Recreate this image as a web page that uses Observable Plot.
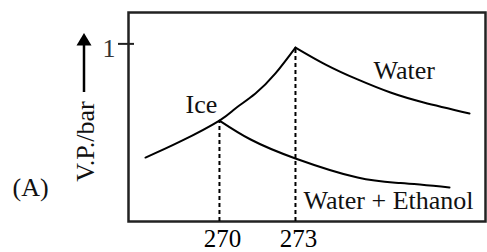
<!DOCTYPE html>
<html>
<head>
<meta charset="utf-8">
<script src="https://cdn.jsdelivr.net/npm/d3@7"></script>
<script src="https://cdn.jsdelivr.net/npm/@observablehq/plot@0.6"></script>
<style>
  html, body { margin: 0; padding: 0; background: #fff; }
  #chart svg { display: block; }
</style>
</head>
<body>
<div id="chart"></div>
<script>
// Ice curve (rising to the triple point at 273)
const iceT  = [267.08, 268.46, 270.0, 270.63, 271.42, 272.21, 273.0];
const iceVP = [0.361, 0.452, 0.570, 0.638, 0.723, 0.836, 0.982];
// Pure water curve (from 273 falling)
const waterT  = [273.0, 274.19, 275.45, 276.75, 278.06, 279.87];
const waterVP = [0.982, 0.886, 0.802, 0.728, 0.672, 0.610];
// Water + Ethanol curve (from 270 falling)
const ethT  = [270.0, 271.23, 273.0, 275.45, 277.15, 279.08];
const ethVP = [0.570, 0.463, 0.356, 0.248, 0.217, 0.192];
// Dashed markers
const markT  = [270, 273];
const markVP = [0.570, 0.982];
// Ticks
const xTicks = [270, 273];
const yTicks = [1];
// Labels
const labelNames = ["Ice", "Water", "Water + Ethanol"];
const labelT  = [268.66, 276.08, 273.32];
const labelVP = [0.610, 0.807, 0.073];
const yTitle = ["V.P./bar"];
const panelTag = ["(A)"];

const FONT = "'Liberation Serif', 'Times New Roman', serif";
const toPts = (T, V) => T.map((t, i) => ({t, v: V[i]}));
const ice = toPts(iceT, iceVP);
const water = toPts(waterT, waterVP);
const eth = toPts(ethT, ethVP);
const marks = toPts(markT, markVP);
const labels = labelNames.map((n, i) => ({n, t: labelT[i], v: labelVP[i]}));

// y-axis tick crossing the frame, arrow and rotated title in the left margin
const leftDecor = (index, scales, values, dim) => {
  const g = d3.create("svg:g");
  const ml = dim.marginLeft;
  for (const v of yTicks) {
    const yy = scales.y(v);
    g.append("line").attr("x1", ml - 10).attr("x2", ml + 6)
      .attr("y1", yy).attr("y2", yy)
      .attr("stroke", "#222").attr("stroke-width", 2);
  }
  const x = ml - 44;
  const top = dim.marginTop + 21;
  g.append("line").attr("x1", x).attr("x2", x)
    .attr("y1", top + 10).attr("y2", top + 59)
    .attr("stroke", "#000").attr("stroke-width", 2.5);
  g.append("path")
    .attr("d", `M${x},${top} L${x - 7.5},${top + 12.5} L${x + 7.5},${top + 12.5} Z`)
    .attr("fill", "#000");
  const cy = dim.marginTop + 129.5;
  g.append("text")
    .attr("transform", `translate(${ml - 42},${cy}) rotate(-90)`)
    .attr("text-anchor", "middle")
    .attr("dy", "0.32em")
    .attr("font-size", 26)
    .attr("font-family", FONT)
    .attr("fill", "#111")
    .text(yTitle[0]);
  return g.node();
};

const chart = Plot.plot({
  width: 487,
  height: 252,
  marginLeft: 128,
  marginRight: 2,
  marginTop: 12,
  marginBottom: 31,
  style: {fontFamily: FONT, background: "#fff", color: "#000"},
  x: {domain: [266.41, 280.5]},
  y: {domain: [0, 1.18], axis: null},
  marks: [
    Plot.frame({stroke: "#222", strokeWidth: 2.5}),
    Plot.axisX({ticks: xTicks, tickSize: 0, tickPadding: 7.5, fontSize: 25, label: null, dx: 3, tickFormat: d => String(d)}),
    Plot.text(yTicks, {y: d => d, frameAnchor: "left", text: d => String(d), textAnchor: "end", dx: -13, dy: 4, fontSize: 26, fill: "#333"}),
    Plot.ruleX(marks, {x: "t", y1: 0, y2: "v", stroke: "#000", strokeWidth: 2, strokeDasharray: "4,3"}),
    Plot.line(ice, {x: "t", y: "v", curve: "natural", stroke: "#000", strokeWidth: 2}),
    Plot.line(water, {x: "t", y: "v", curve: "natural", stroke: "#000", strokeWidth: 2}),
    Plot.line(eth, {x: "t", y: "v", curve: "natural", stroke: "#000", strokeWidth: 2}),
    Plot.text(labels, {x: "t", y: "v", text: "n", textAnchor: "start", lineAnchor: "bottom", fontSize: 26, fill: "#111"}),
    Plot.text(panelTag, {frameAnchor: "bottom-left", text: d => d, textAnchor: "start", lineAnchor: "bottom", dx: -116, dy: -26, fontSize: 26, fill: "#111"}),
    leftDecor
  ]
});
document.getElementById("chart").appendChild(chart);
</script>
</body>
</html>
